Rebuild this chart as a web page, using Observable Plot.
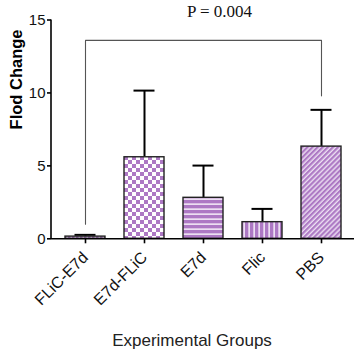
<!DOCTYPE html>
<html>
<head>
<meta charset="utf-8">
<script src="https://cdn.jsdelivr.net/npm/d3@7"></script>
<script src="https://cdn.jsdelivr.net/npm/@observablehq/plot@0.6"></script>
<style>
  html, body { margin: 0; padding: 0; background: #fff; }
  #chart svg { display: block; }
</style>
</head>
<body>
<div id="chart"></div>
<script>
const groups = ["FLiC-E7d", "E7d-FLiC", "E7d", "Flic", "PBS"];
const means = [0.15, 5.59, 2.81, 1.14, 6.32];
const errors = [0.12, 4.57, 2.21, 0.91, 2.52];
const patterns = ["url(#pat-dots)", "url(#pat-check)", "url(#pat-hstripe)", "url(#pat-vstripe)", "url(#pat-diag)"];
const yTicks = [0, 5, 10, 15];
// significance bracket: from group, to group, left foot, top, right foot
const bracketGroups = ["FLiC-E7d", "FLiC-E7d", "PBS", "PBS"];
const bracketValues = [1.0, 13.6, 13.6, 9.8];
const pLabel = "P = 0.004";
const yLabel = "Flod Change";
const xLabel = "Experimental Groups";

const data = groups.map((g, i) => ({group: g, mean: means[i], top: means[i] + errors[i], fill: patterns[i]}));
const bracket = bracketGroups.map((g, i) => ({group: g, v: bracketValues[i]}));

const PURPLE = "#ad79c4";
const LIGHT = "#ecdff2";

function defsMark() {
  return () => {
    const svg = d3.create("svg:g");
    const defs = svg.append("defs");
    let p = defs.append("pattern").attr("id", "pat-check").attr("patternUnits", "userSpaceOnUse").attr("width", 8).attr("height", 8);
    p.append("rect").attr("width", 8).attr("height", 8).attr("fill", "#ffffff");
    p.append("rect").attr("x", 0).attr("y", 0).attr("width", 4).attr("height", 4).attr("fill", PURPLE);
    p.append("rect").attr("x", 4).attr("y", 4).attr("width", 4).attr("height", 4).attr("fill", PURPLE);
    p = defs.append("pattern").attr("id", "pat-hstripe").attr("patternUnits", "userSpaceOnUse").attr("width", 5).attr("height", 5);
    p.append("rect").attr("width", 5).attr("height", 5).attr("fill", PURPLE);
    p.append("rect").attr("y", 3.3).attr("width", 5).attr("height", 1.7).attr("fill", LIGHT);
    p = defs.append("pattern").attr("id", "pat-vstripe").attr("patternUnits", "userSpaceOnUse").attr("width", 5).attr("height", 5);
    p.append("rect").attr("width", 5).attr("height", 5).attr("fill", PURPLE);
    p.append("rect").attr("x", 3.3).attr("width", 1.7).attr("height", 5).attr("fill", LIGHT);
    p = defs.append("pattern").attr("id", "pat-diag").attr("patternUnits", "userSpaceOnUse").attr("width", 3.6).attr("height", 3.6).attr("patternTransform", "rotate(45)");
    p.append("rect").attr("width", 3.6).attr("height", 3.6).attr("fill", PURPLE);
    p.append("rect").attr("x", 2.2).attr("width", 1.4).attr("height", 3.6).attr("fill", LIGHT);
    p = defs.append("pattern").attr("id", "pat-dots").attr("patternUnits", "userSpaceOnUse").attr("width", 4).attr("height", 4);
    p.append("rect").attr("width", 4).attr("height", 4).attr("fill", LIGHT);
    p.append("rect").attr("width", 2.5).attr("height", 4).attr("fill", PURPLE);
    return svg.node();
  };
}

function leftAxisLine() {
  return (index, scales, values, dims) => {
    const g = d3.create("svg:g");
    g.append("line")
      .attr("x1", dims.marginLeft).attr("x2", dims.marginLeft)
      .attr("y1", scales.y(15)).attr("y2", scales.y(0))
      .attr("stroke", "#000").attr("stroke-width", 1.6);
    return g.node();
  };
}

const chart = Plot.plot({
  width: 355,
  height: 359,
  marginLeft: 51,
  marginRight: 1,
  marginTop: 19.5,
  marginBottom: 120.7,
  style: {fontFamily: "'Liberation Sans', Arial, sans-serif", color: "#000", background: "#fff"},
  x: {domain: groups, paddingInner: 0.33, paddingOuter: 0.2, label: null},
  y: {domain: [0, 15], label: null},
  color: {type: "identity"},
  marks: [
    defsMark(),
    Plot.ruleX(data, {x: "group", y1: "mean", y2: "top", stroke: "#000", strokeWidth: 2}),
    Plot.tickY(data, {x: "group", y: "top", stroke: "#000", strokeWidth: 2, insetLeft: 9.5, insetRight: 9.5}),
    Plot.barY(data, {x: "group", y: "mean", fill: "fill", stroke: "#222", strokeWidth: 1.4}),
    Plot.line(bracket, {x: "group", y: "v", stroke: "#555", strokeWidth: 1.1, curve: "linear"}),
    Plot.text([pLabel], {x: () => "E7d", y: () => 15.6, dx: 16, fontFamily: "'Liberation Serif', 'Times New Roman', serif", fontSize: 17, fill: "#111"}),
    Plot.ruleY([0], {stroke: "#000", strokeWidth: 1.6}),
    leftAxisLine(),
    Plot.axisY({ticks: yTicks, tickSize: 4, tickPadding: 2, fontSize: 15, label: null, stroke: "#000", strokeWidth: 1.6, fill: "#111"}),
    Plot.axisX({tickSize: 5, tickPadding: 11, tickRotate: -45, fontSize: 16, label: null, stroke: "#000", strokeWidth: 1.6, fill: "#111"}),
    Plot.text([yLabel], {frameAnchor: "left", dx: -35, rotate: -90, fontSize: 16.5, fontWeight: "bold", fill: "#000"}),
    Plot.text([xLabel], {frameAnchor: "bottom", dy: 107, dx: -11, fontSize: 17, fill: "#222"})
  ]
});

document.getElementById("chart").appendChild(chart);
</script>
</body>
</html>
